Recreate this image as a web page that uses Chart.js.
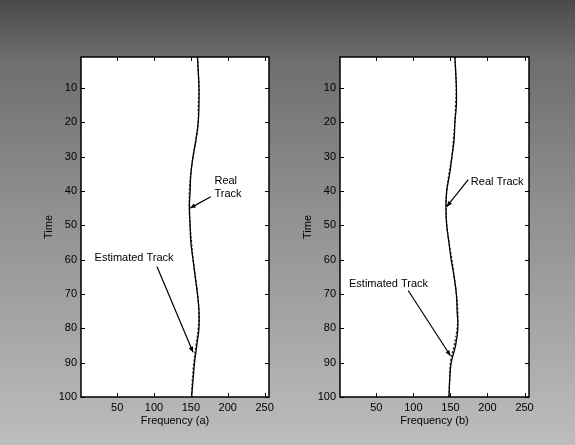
<!DOCTYPE html>
<html>
<head>
<meta charset="utf-8">
<script src="https://cdn.jsdelivr.net/npm/chart.js@4/dist/chart.umd.min.js"></script>
<style>
  body { margin: 0; }
  #page {
    position: relative;
    width: 575px;
    height: 445px;
    background: linear-gradient(to bottom, #4a4a4a 0px, #6e6e6e 60px, #8e8e8e 200px, #a8a8a8 340px, #bdbdbd 445px);
    overflow: hidden;
  }
  canvas { position: absolute; top: 0; }
</style>
</head>
<body>
<div id="page">
  <canvas id="chartA" width="287" height="445" style="left:0px"></canvas>
  <canvas id="chartB" width="288" height="445" style="left:287px"></canvas>
</div>
<script>
const timeSteps = [1, 5, 10, 15, 20, 25, 30, 35, 40, 45, 50, 55, 60, 65, 70, 75, 80, 85, 90, 95, 100];

const realTrackA = [159, 160, 161, 161, 160, 157, 153, 150, 149, 148, 149, 150, 153, 156, 159, 161, 161, 158, 155, 153, 151];
const estTrackA  = [159, 160, 161, 160, 160, 157, 153, 150, 148, 148, 149, 151, 153, 156, 159, 161, 160, 157, 154, 152, 151];

const realTrackB = [156, 157, 158, 158, 156, 155, 152, 149, 145, 144, 145, 148, 151, 155, 158, 159, 160, 157, 151, 149, 148];
const estTrackB  = [156, 157, 158, 157, 156, 154, 152, 148, 145, 144, 145, 148, 152, 155, 158, 160, 159, 155, 150, 149, 148];

const timeTicks = [10, 20, 30, 40, 50, 60, 70, 80, 90, 100];
const freqTicks = [50, 100, 150, 200, 250];

// labels with arrows, in data units: text position, arrow start, arrow end
const notesA = [
  { lines: ["Real", "Track"], at: [182, 39], align: "left", from: [177, 41.7], to: [149, 45] },
  { lines: ["Estimated Track"], at: [73, 59.5], align: "center", from: [104, 62], to: [153, 87] }
];
const notesB = [
  { lines: ["Real Track"], at: [177.5, 37.3], align: "left", from: [174, 36.7], to: [145, 44.6] },
  { lines: ["Estimated Track"], at: [66.5, 67], align: "center", from: [93, 69], to: [150, 88] }
];

const FONT = "'Liberation Sans', Arial, sans-serif";

function toPoints(freqs) {
  return freqs.map((f, i) => ({ x: f, y: timeSteps[i] }));
}

const boxPlugin = {
  id: "box",
  beforeDraw(chart) {
    const a = chart.chartArea;
    const ctx = chart.ctx;
    ctx.save();
    ctx.fillStyle = "#ffffff";
    ctx.fillRect(a.left, a.top, a.right - a.left, a.bottom - a.top);
    ctx.restore();
  },
  afterDraw(chart) {
    const a = chart.chartArea;
    const ctx = chart.ctx;
    const xs = chart.scales.x;
    const ys = chart.scales.y;
    ctx.save();
    ctx.strokeStyle = "#000";
    ctx.lineWidth = 1.5;
    ctx.strokeRect(a.left, a.top, a.right - a.left, a.bottom - a.top);
    ctx.lineWidth = 1;
    ctx.beginPath();
    timeTicks.forEach(t => {
      const py = Math.round(ys.getPixelForValue(t)) + 0.5;
      ctx.moveTo(a.left, py); ctx.lineTo(a.left + 4, py);
      ctx.moveTo(a.right, py); ctx.lineTo(a.right - 4, py);
    });
    freqTicks.forEach(f => {
      const px = Math.round(xs.getPixelForValue(f)) + 0.5;
      ctx.moveTo(px, a.bottom); ctx.lineTo(px, a.bottom - 4);
      ctx.moveTo(px, a.top); ctx.lineTo(px, a.top + 4);
    });
    ctx.stroke();

    // annotations
    const notes = chart.options.plugins.box.notes;
    ctx.fillStyle = "#000";
    ctx.font = "11px " + FONT;
    ctx.textBaseline = "middle";
    notes.forEach(n => {
      ctx.textAlign = n.align;
      const tx = xs.getPixelForValue(n.at[0]);
      const ty = ys.getPixelForValue(n.at[1]);
      n.lines.forEach((s, i) => ctx.fillText(s, tx, ty + i * 13 - (n.lines.length - 1) * 6.5));
      const x1 = xs.getPixelForValue(n.from[0]), y1 = ys.getPixelForValue(n.from[1]);
      const x2 = xs.getPixelForValue(n.to[0]), y2 = ys.getPixelForValue(n.to[1]);
      ctx.lineWidth = 1.2;
      ctx.beginPath();
      ctx.moveTo(x1, y1); ctx.lineTo(x2, y2);
      ctx.stroke();
      const ang = Math.atan2(y2 - y1, x2 - x1);
      ctx.beginPath();
      ctx.moveTo(x2, y2);
      ctx.lineTo(x2 - 6 * Math.cos(ang - 0.4), y2 - 6 * Math.sin(ang - 0.4));
      ctx.lineTo(x2 - 6 * Math.cos(ang + 0.4), y2 - 6 * Math.sin(ang + 0.4));
      ctx.closePath();
      ctx.fill();
    });
    ctx.restore();
  }
};

function makePanel(id, real, est, xLabel, notes, pad) {
  new Chart(document.getElementById(id), {
    type: "scatter",
    data: {
      datasets: [
        {
          label: "Real Track",
          data: toPoints(real),
          showLine: true,
          borderColor: "#000",
          borderWidth: 1.3,
          pointRadius: 0,
          tension: 0.4
        },
        {
          label: "Estimated Track",
          data: toPoints(est),
          showLine: true,
          borderColor: "#222",
          borderWidth: 1.3,
          borderDash: [2, 2],
          pointRadius: 0,
          tension: 0.4
        }
      ]
    },
    options: {
      responsive: false,
      animation: false,
      layout: { padding: pad },
      scales: {
        x: {
          type: "linear",
          min: 1,
          max: 256,
          afterBuildTicks: s => { s.ticks = freqTicks.map(v => ({ value: v })); },
          afterFit: s => { s.height = 35; },
          grid: { display: false, drawTicks: false },
          border: { display: false },
          ticks: { color: "#000", padding: 4, font: { family: FONT, size: 11 } },
          title: { display: true, text: xLabel, color: "#000", padding: { top: 2, bottom: 4 }, font: { family: FONT, size: 11 } }
        },
        y: {
          type: "linear",
          reverse: true,
          min: 1,
          max: 100,
          afterBuildTicks: s => { s.ticks = timeTicks.map(v => ({ value: v })); },
          afterFit: s => { s.width = 45; },
          grid: { display: false, drawTicks: false },
          border: { display: false },
          ticks: { color: "#000", padding: 4, font: { family: FONT, size: 11 } },
          title: { display: true, text: "Time", color: "#000", padding: { top: 6, bottom: 2 }, font: { family: FONT, size: 11 } }
        }
      },
      plugins: {
        legend: { display: false },
        tooltip: { enabled: false },
        box: { notes: notes }
      }
    },
    plugins: [boxPlugin]
  });
}

makePanel("chartA", realTrackA, estTrackA, "Frequency (a)", notesA, { left: 36, right: 18, top: 57, bottom: 13 });
makePanel("chartB", realTrackB, estTrackB, "Frequency (b)", notesB, { left: 8, right: 46, top: 57, bottom: 13 });
</script>
</body>
</html>
